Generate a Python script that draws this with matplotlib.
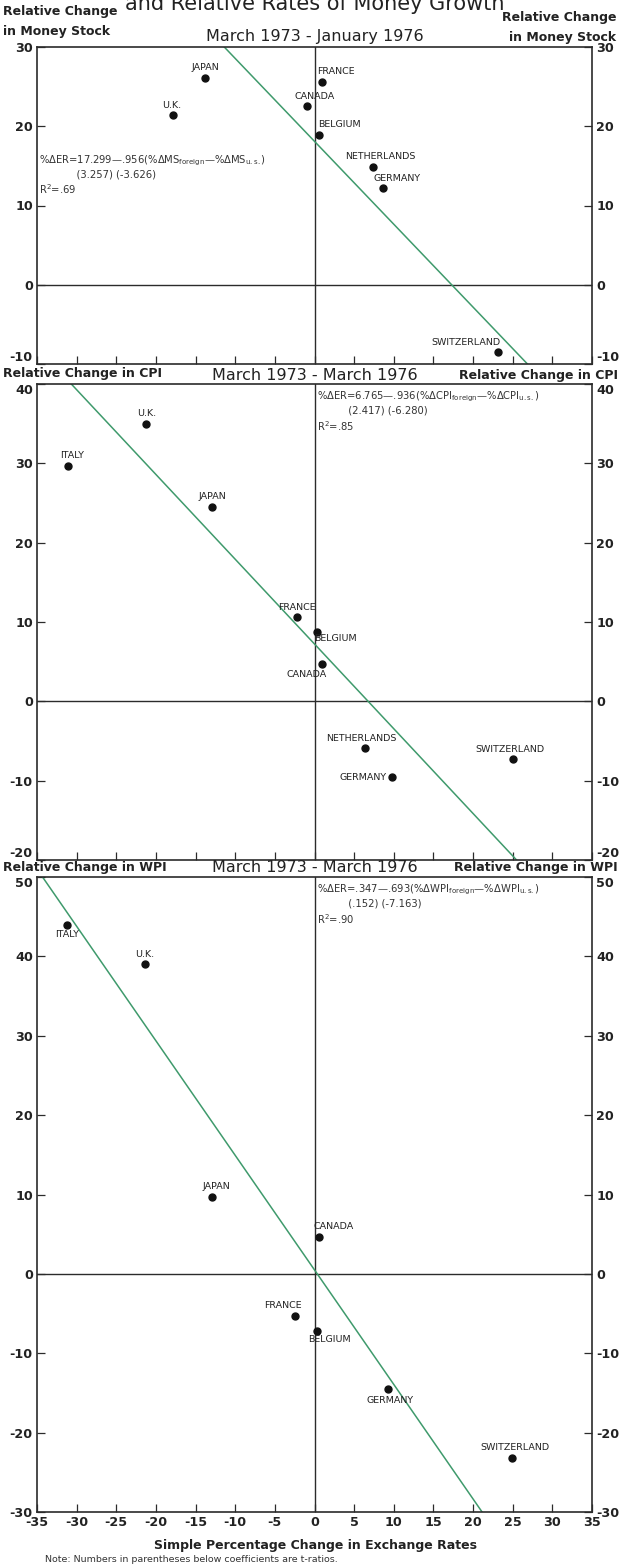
import matplotlib
matplotlib.use("Agg")
import matplotlib.pyplot as plt
from matplotlib import font_manager

plt.rcParams['font.family'] = ['DejaVu Sans']
plt.rcParams['mathtext.default'] = 'regular'
plt.rcParams['axes.unicode_minus'] = False

# Country points: x = simple % change in exchange rate, y = relative change
ms_countries = ["JAPAN", "U.K.", "FRANCE", "CANADA", "BELGIUM", "NETHERLANDS", "GERMANY", "SWITZERLAND"]
ms_x = [-13.8, -17.8, 0.9, -0.9, 0.6, 7.4, 8.7, 23.1]
ms_y = [26.1, 21.4, 25.6, 22.5, 18.9, 14.9, 12.2, -8.5]

cpi_countries = ["U.K.", "ITALY", "JAPAN", "FRANCE", "BELGIUM", "CANADA", "NETHERLANDS", "GERMANY", "SWITZERLAND"]
cpi_x = [-21.2, -31.1, -12.9, -2.2, 0.3, 0.9, 6.4, 9.8, 25.0]
cpi_y = [35.0, 29.7, 24.5, 10.6, 8.8, 4.7, -5.9, -9.6, -7.3]

wpi_countries = ["ITALY", "U.K.", "JAPAN", "CANADA", "FRANCE", "BELGIUM", "GERMANY", "SWITZERLAND"]
wpi_x = [-31.2, -21.4, -12.9, 0.6, -2.5, 0.3, 9.3, 24.9]
wpi_y = [44.0, 39.0, 9.7, 4.7, -5.3, -7.2, -14.5, -23.2]

# Regression: %dER = a + b * (relative change)
ms_fit = (17.299, -0.956)
cpi_fit = (6.765, -0.936)
wpi_fit = (0.347, -0.693)

x_ticks = list(range(-35, 40, 5))

# label placement: (dx, dy) in points, ha, va
ms_lab = {
    "JAPAN": (0, 4, "center", "bottom"), "U.K.": (-1, 4, "center", "bottom"),
    "FRANCE": (-3, 4, "left", "bottom"), "CANADA": (5, 4, "center", "bottom"),
    "BELGIUM": (-1, 4, "left", "bottom"), "NETHERLANDS": (5, 4, "center", "bottom"),
    "GERMANY": (-7, 4, "left", "bottom"), "SWITZERLAND": (2, 4, "right", "bottom"),
}
cpi_lab = {
    "U.K.": (0, 4, "center", "bottom"), "ITALY": (3, 4, "center", "bottom"),
    "JAPAN": (0, 4, "center", "bottom"), "FRANCE": (0, 4, "center", "bottom"),
    "BELGIUM": (-2, -2, "left", "top"), "CANADA": (-11, -4, "center", "top"),
    "NETHERLANDS": (-3, 4, "center", "bottom"), "GERMANY": (-4, 0, "right", "center"),
    "SWITZERLAND": (-2, 4, "center", "bottom"),
}
wpi_lab = {
    "ITALY": (0, -4, "center", "top"), "U.K.": (0, 4, "center", "bottom"),
    "JAPAN": (3, 4, "center", "bottom"), "CANADA": (-4, 4, "left", "bottom"),
    "FRANCE": (5, 4, "right", "bottom"), "BELGIUM": (-6, -3, "left", "top"),
    "GERMANY": (1, -5, "center", "top"), "SWITZERLAND": (2, 4, "center", "bottom"),
}

# narrow face for the headings and tick numbers, if one is installed
installed = {f.name for f in font_manager.fontManager.ttflist}
narrow = ["Liberation Sans Narrow"] if "Liberation Sans Narrow" in installed else []
narrow_family = narrow + ["DejaVu Sans"]

green = "#3f9a6c"
frame = "#2b2b2b"
cond = dict(family=narrow_family, fontweight="bold", color="#222222")

fig = plt.figure(figsize=(6.19, 15.66), dpi=100)
W, H = 619, 1566


def panel(top, bottom, ylim, yticks, xs, ys, names, labs, fit, eq, eq_pos, first):
    ax = fig.add_axes([37 / W, (H - bottom) / H, 555 / W, (bottom - top) / H])
    ax.set_xlim(-35, 35)
    ax.set_ylim(*ylim)
    ax.axhline(0, color=frame, lw=1.0, zorder=1)
    ax.axvline(0, color=frame, lw=1.0, zorder=1)
    # regression line, ER as a function of the relative change
    a, b = fit
    ax.plot([a + b * ylim[0], a + b * ylim[1]], ylim, color=green, lw=1.1, zorder=2)
    ax.plot(xs, ys, "o", color="#111111", ms=5, zorder=3)
    for n, x, y in zip(names, xs, ys):
        dx, dy, ha, va = labs[n]
        ax.annotate(n, (x, y), xytext=(dx, dy), textcoords="offset points",
                    ha=ha, va=va, fontsize=6.8, color="#222222")
    for s in ax.spines.values():
        s.set_color(frame)
        s.set_linewidth(1.2)
    ax.set_xticks(x_ticks)
    ax.set_yticks(yticks)
    show_x = bottom > 1400
    ax.tick_params(direction="in", length=6, width=0.9, color=frame,
                   left=True, right=True, labelleft=True, labelright=True,
                   labelbottom=show_x, labelsize=9.2, pad=3)
    for lab in ax.get_xticklabels() + ax.get_yticklabels():
        lab.set_family(narrow_family)
        lab.set_fontweight("bold")
        lab.set_color("#222222")
    # end numbers sit inside the frame height so the headings have room
    yt = ax.yaxis.get_major_ticks()
    if not show_x:
        yt[0].label1.set_va("bottom")
        yt[0].label2.set_va("bottom")
    if not first:
        yt[-1].label1.set_va("top")
        yt[-1].label2.set_va("top")
    ax.text(eq_pos[0], eq_pos[1], eq, transform=ax.transData, fontsize=7.2,
            color="#333333", va="top", ha="left", linespacing=1.25)
    return ax


ms_eq = ("%$\\Delta$ER=17.299\u2014.956(%$\\Delta$MS$_{foreign}$\u2014%$\\Delta$MS$_{u.s.}$)\n"
         "            (3.257) (-3.626)\nR$^{2}$=.69")
cpi_eq = ("%$\\Delta$ER=6.765\u2014.936(%$\\Delta$CPI$_{foreign}$\u2014%$\\Delta$CPI$_{u.s.}$)\n"
          "          (2.417) (-6.280)\nR$^{2}$=.85")
wpi_eq = ("%$\\Delta$ER=.347\u2014.693(%$\\Delta$WPI$_{foreign}$\u2014%$\\Delta$WPI$_{u.s.}$)\n"
          "          (.152) (-7.163)\nR$^{2}$=.90")

panel(47, 364, (-10, 30), [-10, 0, 10, 20, 30], ms_x, ms_y, ms_countries, ms_lab,
      ms_fit, ms_eq, (-34.8, 16.6), True)
panel(384, 860, (-20, 40), [-20, -10, 0, 10, 20, 30, 40], cpi_x, cpi_y, cpi_countries,
      cpi_lab, cpi_fit, cpi_eq, (0.3, 39.3), False)
panel(877, 1512, (-30, 50), [-30, -20, -10, 0, 10, 20, 30, 40, 50], wpi_x, wpi_y,
      wpi_countries, wpi_lab, wpi_fit, wpi_eq, (0.3, 49.3), False)


def fy(px):
    return 1 - px / H


# headings around each panel
fig.text(315 / W, fy(10), "and Relative Rates of Money Growth", ha="center",
         va="baseline", fontsize=15, color="#222222")
fig.text(3 / W, fy(12), "Relative Change", ha="left", va="center", fontsize=9, **cond)
fig.text(3 / W, fy(31), "in Money Stock", ha="left", va="center", fontsize=9, **cond)
fig.text(616 / W, fy(18), "Relative Change", ha="right", va="center", fontsize=9, **cond)
fig.text(616 / W, fy(37), "in Money Stock", ha="right", va="center", fontsize=9, **cond)
fig.text(315 / W, fy(37), "March 1973 - January 1976", ha="center", va="center",
         fontsize=11.5, family=narrow_family, color="#222222")

fig.text(3 / W, fy(374), "Relative Change in CPI", ha="left", va="center", fontsize=9, **cond)
fig.text(618 / W, fy(375), "Relative Change in CPI", ha="right", va="center", fontsize=9, **cond)
fig.text(315 / W, fy(375), "March 1973 - March 1976", ha="center", va="center",
         fontsize=11.5, family=narrow_family, color="#222222")

fig.text(3 / W, fy(868), "Relative Change in WPI", ha="left", va="center", fontsize=9, **cond)
fig.text(618 / W, fy(868), "Relative Change in WPI", ha="right", va="center", fontsize=9, **cond)
fig.text(315 / W, fy(868), "March 1973 - March 1976", ha="center", va="center",
         fontsize=11.5, family=narrow_family, color="#222222")

fig.text(315 / W, fy(1545), "Simple Percentage Change in Exchange Rates", ha="center",
         va="center", fontsize=9, **cond)
fig.text(45 / W, fy(1559), "Note: Numbers in parentheses below coefficients are t-ratios.",
         ha="left", va="center", fontsize=6.8, color="#333333")

fig.savefig("out.png", dpi=100, facecolor="white")
